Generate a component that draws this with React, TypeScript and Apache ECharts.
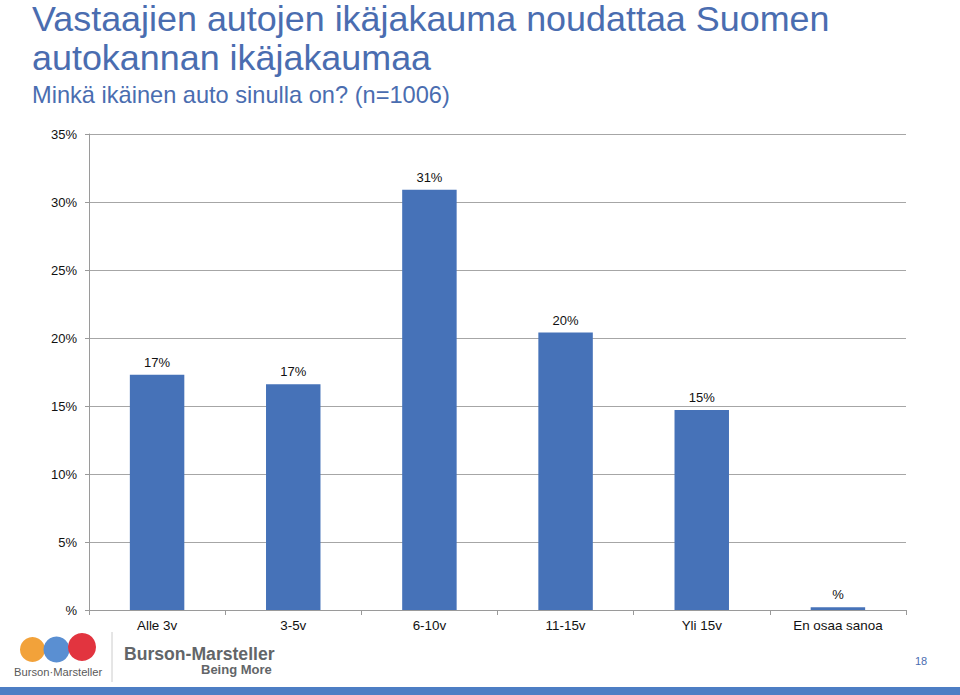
import React, { useEffect, useRef } from "react";
import * as echarts from "echarts";

const categories = ["Alle 3v", "3-5v", "6-10v", "11-15v", "Yli 15v", "En osaa sanoa"];
const shares = [17.3, 16.6, 30.9, 20.4, 14.7, 0.2];
const yTicks = [0, 5, 10, 15, 20, 25, 30, 35];

const titleLine1 = "Vastaajien autojen ikäjakauma noudattaa Suomen";
const titleLine2 = "autokannan ikäjakaumaa";
const subtitle = "Minkä ikäinen auto sinulla on? (n=1006)";

const pct = (v: number) => {
  const r = Math.round(v);
  return r === 0 ? "%" : r + "%";
};

export default function App() {
  const ref = useRef<HTMLDivElement>(null);
  useEffect(() => {
    if (!ref.current) return;
    const chart = echarts.init(ref.current, null, { renderer: "svg" });
    const font = "Liberation Sans, Arial, sans-serif";
    const blue = "#4A6DB0";
    chart.setOption({
      animation: false,
      backgroundColor: "#ffffff",
      textStyle: { fontFamily: font },
      grid: { left: 89, right: 54, top: 134, bottom: 85, containLabel: false },
      xAxis: {
        type: "category",
        data: categories,
        axisLine: { show: true, lineStyle: { color: "#9a9a9a", width: 1 } },
        axisTick: { show: true, length: 5, lineStyle: { color: "#9a9a9a" } },
        axisLabel: { color: "#111", fontSize: 13.4, margin: 9, fontFamily: font },
      },
      yAxis: {
        type: "value",
        min: yTicks[0],
        max: yTicks[yTicks.length - 1],
        interval: 5,
        axisLine: { show: true, lineStyle: { color: "#9a9a9a", width: 1 } },
        axisTick: { show: true, length: 4, lineStyle: { color: "#9a9a9a" } },
        axisLabel: {
          color: "#111",
          fontSize: 13,
          margin: 12,
          fontFamily: font,
          formatter: (v: number) => (v === 0 ? "%" : v + "%"),
        },
        splitLine: { show: true, lineStyle: { color: "#a6a6a6", width: 1 } },
      },
      series: [
        {
          type: "bar",
          data: shares,
          barWidth: "40%",
          itemStyle: { color: "#4672B8" },
          label: {
            show: true,
            position: "top",
            distance: 6,
            color: "#111",
            fontSize: 13,
            fontFamily: font,
            formatter: (p: any) => pct(p.value),
          },
        },
      ],
      graphic: [
        { type: "text", x: 32, y: 18.5, style: { text: titleLine1, fontSize: 35.9, fill: blue, fontFamily: font, verticalAlign: "middle" } },
        { type: "text", x: 32, y: 58, style: { text: titleLine2, fontSize: 35.9, fill: blue, fontFamily: font, verticalAlign: "middle" } },
        { type: "text", x: 32, y: 95, style: { text: subtitle, fontSize: 23.6, fill: blue, fontFamily: font, verticalAlign: "middle" } },
        { type: "circle", shape: { cx: 32.5, cy: 649.5, r: 12.5 }, style: { fill: "#F2A23A" } },
        { type: "circle", shape: { cx: 56.5, cy: 649.5, r: 13 }, style: { fill: "#5A8FD2" } },
        { type: "circle", shape: { cx: 82, cy: 647, r: 14 }, style: { fill: "#E2343F" } },
        { type: "text", x: 14, y: 672, style: { text: "Burson·Marsteller", fontSize: 11.2, fill: "#5a5a5a", fontFamily: font, verticalAlign: "middle" } },
        { type: "line", shape: { x1: 112, y1: 632, x2: 112, y2: 682 }, style: { stroke: "#cccccc", lineWidth: 1 } },
        { type: "text", x: 124, y: 653.5, style: { text: "Burson-Marsteller", fontSize: 17.6, fontWeight: "bold", fill: "#626568", fontFamily: font, verticalAlign: "middle" } },
        { type: "text", x: 201, y: 669.5, style: { text: "Being More", fontSize: 13, fontWeight: "bold", fill: "#626568", fontFamily: font, verticalAlign: "middle" } },
        { type: "text", x: 915, y: 661, style: { text: "18", fontSize: 11, fill: blue, fontFamily: font, verticalAlign: "middle" } },
        { type: "rect", shape: { x: 0, y: 687, width: 960, height: 8 }, style: { fill: "#4D7EC4" } },
      ],
    });
    return () => chart.dispose();
  }, []);
  return <div ref={ref} style={{ position: "absolute", left: 0, top: 0, width: 960, height: 695 }} />;
}
